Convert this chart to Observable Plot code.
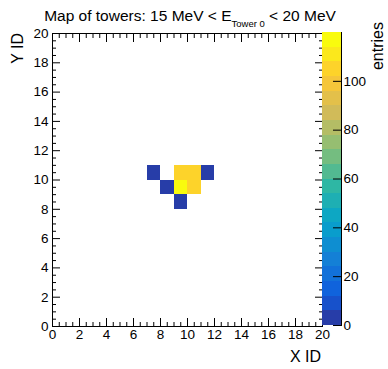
<!DOCTYPE html>
<html>
<head>
<meta charset="utf-8">
<script src="https://cdn.jsdelivr.net/npm/d3@7"></script>
<script src="https://cdn.jsdelivr.net/npm/@observablehq/plot@0.6"></script>
<style>
  body { margin: 0; background: #fff; }
  #wrap { position: relative; width: 388px; height: 369px; }
  #wrap svg { position: absolute; left: 0; top: 0; overflow: visible; }
</style>
</head>
<body>
<div id="wrap"></div>
<script>
// ---- data ----
const cellX = [7, 11, 9, 10, 8, 9, 10, 9];
const cellY = [10, 10, 10, 10, 9, 9, 9, 8];
const cellEntries = [3, 3, 105, 106, 4, 120, 104, 4];
const zMax = 120;
const nLevels = 20;
const xMajorTicks = [0, 2, 4, 6, 8, 10, 12, 14, 16, 18, 20];
const yMajorTicks = [0, 2, 4, 6, 8, 10, 12, 14, 16, 18, 20];
const minorTicks = [0.5, 1, 1.5, 2.5, 3, 3.5, 4.5, 5, 5.5, 6.5, 7, 7.5, 8.5, 9, 9.5, 10.5, 11, 11.5, 12.5, 13, 13.5, 14.5, 15, 15.5, 16.5, 17, 17.5, 18.5, 19, 19.5];
const zTicks = [0, 20, 40, 60, 80, 100];
const titleMain = "Map of towers: 15 MeV < E";
const titleSub = "Tower 0";
const titleEnd = " < 20 MeV";
const xLabel = "X ID";
const yLabel = "Y ID";
const zLabel = "entries";

// ---- ROOT kBird palette ----
const stops = [0.0, 0.125, 0.25, 0.375, 0.5, 0.625, 0.75, 0.875, 1.0];
const R = [0.2082, 0.0592, 0.0780, 0.0232, 0.1802, 0.5301, 0.8186, 0.9956, 0.9764];
const G = [0.1664, 0.3599, 0.5041, 0.6419, 0.7178, 0.7492, 0.7328, 0.7862, 0.9832];
const B = [0.5293, 0.8684, 0.8385, 0.7914, 0.6425, 0.4662, 0.3499, 0.1968, 0.0539];
function bird(t) {
  let k = 0;
  while (k < stops.length - 2 && t > stops[k + 1]) k++;
  const f = (t - stops[k]) / (stops[k + 1] - stops[k]);
  const c = a => Math.round(255 * (a[k] + f * (a[k + 1] - a[k])));
  return `rgb(${c(R)},${c(G)},${c(B)})`;
}
const levelStep = zMax / nLevels;
const levels = d3.range(nLevels).map(i => i * levelStep);
const thresholds = levels.slice(1);
const palette = d3.range(nLevels).map(i => bird(Math.floor((i + 0.99) * 255 / nLevels) / 254));

const cells = cellX.map((x, i) => ({x, y: cellY[i], v: cellEntries[i]}));

const font = "'Liberation Sans', Arial, Helvetica, sans-serif";
const colorOpts = {type: "threshold", domain: thresholds, range: palette};
const blank = () => "";

const main = Plot.plot({
  width: 388, height: 369,
  marginLeft: 52, marginRight: 66, marginTop: 33, marginBottom: 43,
  style: {fontFamily: font, fontSize: "13.5px", color: "black", background: "transparent"},
  x: {domain: [0, 20]},
  y: {domain: [0, 20]},
  color: colorOpts,
  marks: [
    Plot.rect(cells, {x1: "x", x2: d => d.x + 1, y1: "y", y2: d => d.y + 1, fill: "v", inset: 0, shapeRendering: "crispEdges"}),
    Plot.frame({stroke: "black", strokeWidth: 1}),
    Plot.axisX({anchor: "bottom", ticks: xMajorTicks, tickSize: -8, tickFormat: blank, label: null}),
    Plot.axisX({anchor: "bottom", ticks: minorTicks, tickSize: -4, tickFormat: blank, label: null}),
    Plot.axisX({anchor: "top", ticks: xMajorTicks, tickSize: -8, tickFormat: blank, label: null}),
    Plot.axisX({anchor: "top", ticks: minorTicks, tickSize: -4, tickFormat: blank, label: null}),
    Plot.axisY({anchor: "left", ticks: yMajorTicks, tickSize: -8, tickFormat: blank, label: null}),
    Plot.axisY({anchor: "left", ticks: minorTicks, tickSize: -4, tickFormat: blank, label: null}),
    Plot.axisY({anchor: "right", ticks: yMajorTicks, tickSize: -8, tickFormat: blank, label: null}),
    Plot.axisY({anchor: "right", ticks: minorTicks, tickSize: -4, tickFormat: blank, label: null}),
    Plot.axisX({anchor: "bottom", ticks: xMajorTicks, tickSize: 0, tickPadding: 3, tickFormat: d3.format("d"), label: null}),
    Plot.axisY({anchor: "left", ticks: yMajorTicks, tickSize: 0, tickPadding: 4, tickFormat: d3.format("d"), label: null})
  ]
});

const bar = Plot.plot({
  width: 388, height: 369,
  marginLeft: 322, marginRight: 47, marginTop: 32, marginBottom: 44,
  style: {fontFamily: font, fontSize: "13.5px", color: "black", background: "transparent"},
  x: {domain: [0, 1], axis: null},
  y: {domain: [0, zMax]},
  color: colorOpts,
  marks: [
    Plot.rect(levels, {x1: 0, x2: 1, y1: d => d, y2: d => d + levelStep, fill: d => d + levelStep / 2, shapeRendering: "crispEdges"}),
    Plot.ruleX([1], {stroke: "black"}),
    Plot.axisY({anchor: "right", ticks: zTicks, tickSize: -9, tickFormat: blank, label: null}),
    Plot.axisY({anchor: "right", ticks: zTicks, tickSize: 0, tickPadding: 2, tickFormat: d3.format("d"), label: null})
  ]
});

const wrap = document.getElementById("wrap");
wrap.appendChild(main);
wrap.appendChild(bar);

// titles / axis labels
const svg = d3.select(main);
const t = svg.append("text")
  .attr("x", 190).attr("y", 21)
  .attr("text-anchor", "middle")
  .attr("font-family", font).attr("font-size", 15.5).attr("fill", "black");
t.append("tspan").text(titleMain);
t.append("tspan").attr("dy", 6).attr("font-size", 9.5).text(titleSub);
t.append("tspan").attr("dy", -6).text(titleEnd);

svg.append("text")
  .attr("x", 321).attr("y", 362)
  .attr("text-anchor", "end")
  .attr("font-family", font).attr("font-size", 16).attr("fill", "black")
  .text(xLabel);

svg.append("text")
  .attr("transform", "translate(23,33) rotate(-90)")
  .attr("text-anchor", "end")
  .attr("font-family", font).attr("font-size", 16).attr("fill", "black")
  .text(yLabel);

svg.append("text")
  .attr("transform", "translate(383,22) rotate(-90)")
  .attr("text-anchor", "end")
  .attr("font-family", font).attr("font-size", 16).attr("fill", "black")
  .text(zLabel);
</script>
</body>
</html>
